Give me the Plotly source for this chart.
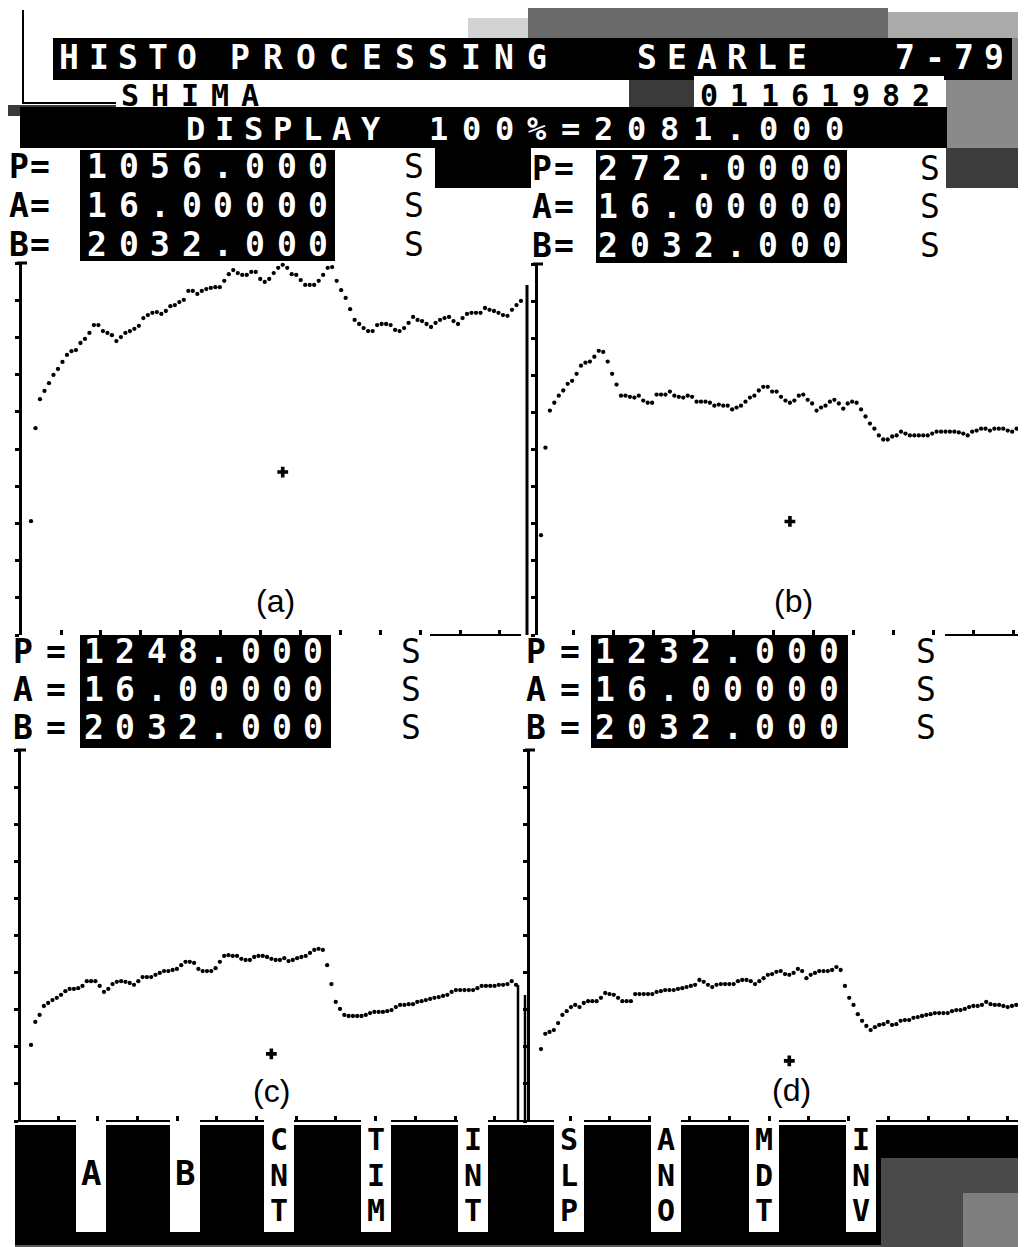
import plotly.graph_objects as go

W, H = 1026, 1247

# ---------------- data (percent of display full scale, one value per channel) ----------------
levels_a = [30.6, 55.6, 63.4, 65.6, 67.7, 69.9, 71.5, 73.4, 75.3, 76.3, 76.6, 78.5, 79.6, 81.2, 83.3,
            83.3, 81.7, 81.2, 80.6, 79.0, 80.1, 81.2, 81.7, 82.3, 83.1, 85.2, 86.0, 86.6, 86.8, 86.3,
            87.1, 88.4, 88.7, 89.5, 90.1, 92.5, 92.5, 91.7, 92.5, 93.0, 93.3, 93.5, 93.5, 95.2, 97.0,
            98.1, 97.3, 96.8, 96.8, 97.6, 97.6, 95.7, 94.9, 95.7, 97.3, 98.7, 99.5, 98.7, 97.0, 96.8,
            95.4, 94.1, 94.1, 94.1, 95.2, 96.8, 98.7, 98.9, 95.2, 92.7, 90.6, 87.6, 84.7, 83.6, 82.5,
            81.7, 81.7, 83.3, 83.6, 83.6, 83.3, 82.0, 81.7, 82.5, 83.9, 85.5, 84.7, 84.4, 83.6, 82.8,
            83.9, 84.7, 85.2, 85.5, 84.4, 83.6, 85.2, 86.3, 86.6, 86.6, 86.6, 87.9, 87.4, 87.1, 86.6,
            86.0, 85.8, 87.4, 88.7, 89.8]
levels_b = [26.9, 50.5, 60.5, 62.6, 64.5, 65.9, 67.7, 68.5, 70.4, 72.6, 73.4, 73.7, 75.0, 76.6, 76.3,
            73.7, 70.4, 67.5, 64.5, 64.5, 64.2, 64.0, 64.5, 63.2, 62.6, 62.6, 64.8, 64.8, 64.8, 65.6,
            64.5, 64.2, 64.0, 64.5, 64.2, 62.9, 62.9, 62.9, 62.6, 61.8, 62.1, 61.8, 61.8, 60.8, 61.3,
            61.8, 62.9, 64.0, 64.5, 65.9, 66.9, 66.9, 65.6, 65.6, 64.2, 63.2, 62.6, 63.2, 64.5, 64.8,
            63.4, 62.4, 60.5, 61.3, 61.8, 62.9, 63.4, 62.4, 61.0, 62.4, 62.9, 62.6, 60.8, 58.9, 57.0,
            55.6, 53.8, 52.7, 52.7, 53.5, 53.8, 54.8, 54.3, 53.8, 53.8, 53.8, 53.8, 53.8, 54.3, 54.8,
            54.8, 54.8, 54.8, 54.8, 54.6, 54.3, 53.8, 54.8, 55.1, 55.6, 55.6, 55.1, 55.6, 55.6, 55.6,
            55.1, 54.8, 55.6, 56.5, 57.0, 56.2]
levels_c = [20.5, 26.7, 28.6, 31.0, 31.8, 32.6, 33.2, 34.0, 35.0, 35.6, 35.6, 35.8, 36.4, 37.7, 37.7,
            37.7, 36.4, 34.8, 35.6, 36.9, 37.5, 37.7, 37.5, 37.2, 36.7, 37.7, 38.8, 38.8, 38.8, 39.4,
            39.9, 40.4, 40.4, 40.7, 41.0, 42.0, 42.9, 42.9, 42.6, 41.0, 40.4, 40.4, 40.4, 41.2, 42.9,
            44.5, 44.7, 44.5, 44.5, 43.7, 43.4, 43.4, 44.2, 44.5, 44.5, 44.2, 43.7, 43.4, 43.4, 43.9,
            43.1, 43.4, 43.9, 44.2, 44.5, 45.3, 46.1, 46.4, 46.1, 42.0, 36.9, 32.1, 30.2, 28.6, 28.3,
            28.3, 28.3, 28.3, 28.6, 29.1, 29.4, 29.4, 29.4, 29.6, 29.9, 30.7, 31.3, 31.3, 31.5, 31.5,
            32.1, 32.3, 32.6, 32.9, 33.2, 33.4, 33.7, 34.0, 34.8, 35.3, 35.3, 35.3, 35.3, 35.3, 35.8,
            36.4, 36.4, 36.4, 36.4, 36.7, 36.7, 36.9, 37.7, 36.7]
levels_d = [19.4, 23.5, 24.0, 24.5, 26.4, 28.6, 29.6, 30.7, 31.3, 30.7, 31.8, 32.3, 32.3, 32.3, 33.2,
            34.5, 34.2, 34.0, 33.2, 32.3, 32.3, 32.3, 34.2, 34.2, 34.2, 34.2, 34.2, 34.8, 35.0, 35.3,
            35.3, 35.3, 35.6, 35.8, 36.1, 36.4, 36.7, 38.0, 37.5, 36.7, 36.1, 36.7, 36.9, 36.9, 36.9,
            36.9, 37.7, 38.0, 38.0, 37.7, 36.9, 37.7, 38.5, 39.4, 39.6, 40.2, 40.4, 39.6, 39.4, 39.9,
            41.0, 40.4, 38.5, 39.4, 39.9, 40.4, 40.4, 40.4, 40.7, 41.5, 40.7, 36.4, 33.2, 31.3, 28.8,
            27.0, 25.6, 24.5, 25.3, 25.9, 26.1, 26.7, 25.9, 26.1, 27.0, 27.2, 27.2, 27.8, 28.0, 28.3,
            28.6, 28.8, 29.1, 29.1, 29.1, 29.1, 29.6, 29.9, 29.9, 30.2, 30.7, 31.0, 31.0, 31.3, 32.1,
            31.5, 31.3, 31.3, 31.0, 30.7, 31.0, 31.3, 31.5, 31.3, 31.8]
panel_levels = [levels_a, levels_b, levels_c, levels_d]
panel_labels = ["(a)", "(b)", "(c)", "(d)"]
cursor_channel = [56, 56, 56, 58]
cursor_level = [43.8, 30.6, 18.1, 16.2]

title_words = ["HISTO", "PROCESSING", "SEARLE", "7-79"]
operator = "SHIMA"
date_code = "01161982"
display_words = ["DISPLAY", "100%=2081.000"]
param_names = ["P", "A", "B"]
param_values = [["1056.000", "16.00000", "2032.000"],
                ["272.0000", "16.00000", "2032.000"],
                ["1248.000", "16.00000", "2032.000"],
                ["1232.000", "16.00000", "2032.000"]]
menu_keys = ["A", "B", "CNT", "TIM", "INT", "SLP", "ANO", "MDT", "INV"]

# ---------------- layout helpers ----------------
MONO = "DejaVu Sans Mono"
SANS = "Liberation Sans, Arial, sans-serif"
shapes, annotations = [], []


def px(x):
    return x / W


def py(y):
    return 1 - y / H


def rect(x0, y0, x1, y1, color, layer="below"):
    shapes.append(dict(type="rect", xref="paper", yref="paper", x0=px(x0), x1=px(x1),
                       y0=py(y1), y1=py(y0), fillcolor=color, line=dict(width=0), layer=layer))


def line(x0, y0, x1, y1, w=2, color="black", layer="below"):
    shapes.append(dict(type="line", xref="paper", yref="paper", x0=px(x0), x1=px(x1),
                       y0=py(y0), y1=py(y1), line=dict(color=color, width=w), layer=layer))


def chars(s, x_first, pitch, y, size, color, family=MONO, weight="bold"):
    for i, ch in enumerate(s):
        if ch == " ":
            continue
        annotations.append(dict(x=px(x_first + i * pitch), y=py(y), xref="paper", yref="paper",
                                text=ch, showarrow=False, xanchor="center", yanchor="middle",
                                font=dict(family=family, size=size, color=color, weight=weight)))


def column(col_chars, x, y_mid, row_pitch, size, color, weight="bold"):
    """Vertically stacked characters in one text element (rows row_pitch px apart)."""
    base = row_pitch / 1.3
    txt = "<br>".join('<span style="font-size:%dpx">%s</span>' % (size, c) for c in col_chars)
    annotations.append(dict(x=px(x), y=py(y_mid), xref="paper", yref="paper", text=txt,
                            showarrow=False, xanchor="center", yanchor="middle", align="center",
                            font=dict(family=MONO, size=base, color=color, weight=weight)))


# ---------------- screen background blocks ----------------
line(15, 2, 15, 96, 2)
line(15, 95, 108, 95, 2)
rect(520, 0, 880, 30, "#6a6a6a")
rect(460, 10, 520, 30, "#d2d2d2")
rect(880, 4, 1026, 30, "#ababab")
rect(45, 30, 1026, 72, "black")
rect(1004, 30, 1026, 72, "#8a8a8a")
rect(621, 72, 686, 100, "#3a3a3a")
rect(938, 72, 1026, 140, "#8a8a8a")
rect(938, 140, 1026, 180, "#3c3c3c")
rect(686, 68, 936, 100, "white")
rect(0, 97, 108, 108, "#3a3a3a")
rect(12, 99, 939, 140, "black")
rect(427, 138, 523, 180, "black")

# parameter boxes
box_geo = [(72, 327, 142, 253), (588, 839, 142, 255), (72, 323, 627, 740), (583, 840, 627, 740)]
for (x0, x1, y0, y1) in box_geo:
    rect(x0, y0, x1, y1, "black")

# menu band
rect(7, 1117, 1026, 1247, "black")
rect(873, 1150, 1026, 1247, "#4a4a4a")
rect(955, 1185, 1026, 1247, "#7e7e7e")
rect(7, 1237, 873, 1247, "#5a5a5a")

# axis line segments and dividers
line(422, 627, 513, 627, 2)
line(937, 627, 1023, 627, 2)
line(8, 1113, 1024, 1113, 2)
line(519, 277, 519, 627, 3)
line(510, 977, 510, 1113, 2.5)
line(517, 987, 517, 1113, 2.5)
line(1024, 985, 1024, 1113, 2.5)

# menu keys (white tabs)
key_x = [68, 162, 256, 353, 450, 546, 643, 741, 838]
for kx in key_x:
    rect(kx, 1111.5, kx + 30, 1224, "white")

# ---------------- panels ----------------
# (left, right, top, bottom, first point px, px per channel, first tick px, tick step px)
geo = [(14, 518, 255, 627, 23, 4.495, 53, 39.9),
       (530, 1024, 256, 627, 533, 4.445, 565, 40.0),
       (13, 512, 742, 1113, 23, 4.292, 50, 39.7),
       (522, 1024, 742, 1113, 533, 4.281, 562, 39.8)]
label_pos = [(267, 593), (785, 593), (263, 1083), (783, 1082)]

fig = go.Figure()
layout_axes = {}
for k, (L, R, T, B, p0, s, t0, ts) in enumerate(geo):
    n = "" if k == 0 else str(k + 1)
    vals = panel_levels[k]
    fig.add_trace(go.Scatter(x=list(range(len(vals))), y=vals, mode="markers",
                             marker=dict(color="black", size=4.3), cliponaxis=False,
                             xaxis="x" + n, yaxis="y" + n, hoverinfo="skip", showlegend=False))
    fig.add_trace(go.Scatter(x=[cursor_channel[k]], y=[cursor_level[k]], mode="markers",
                             marker=dict(color="black", size=9, symbol="cross"), cliponaxis=False,
                             xaxis="x" + n, yaxis="y" + n, hoverinfo="skip", showlegend=False))
    layout_axes["xaxis" + n] = dict(domain=[px(L), px(R)], range=[(L - p0) / s, (R - p0) / s],
                                    anchor="y" + n, showline=False, showgrid=False, zeroline=False,
                                    showticklabels=False, ticks="inside", ticklen=5, tickwidth=2.5,
                                    tickcolor="black", tickmode="linear", tick0=(t0 - p0) / s,
                                    dtick=ts / s, fixedrange=True)
    layout_axes["yaxis" + n] = dict(domain=[py(B), py(T)], range=[0, 100], anchor="x" + n,
                                    showline=True, linewidth=3, linecolor="black", showgrid=False,
                                    zeroline=False, showticklabels=False, ticks="outside", ticklen=4,
                                    tickwidth=2.5, tickcolor="black", tickmode="linear", tick0=0,
                                    dtick=10, fixedrange=True)
    line(L - 5, T, L + 5, T, 3)
    lx, ly = label_pos[k]
    annotations.append(dict(x=px(lx), y=py(ly), xref="paper", yref="paper", text=panel_labels[k],
                            showarrow=False, xanchor="center", yanchor="middle",
                            font=dict(family=SANS, size=32, color="black")))

# ---------------- texts ----------------
title_pos = [(61, 29.5), (232, 33.0), (639, 30.0), (897, 29.7)]
for wd, (x0, p) in zip(title_words, title_pos):
    chars(wd, x0, p, 50, 33, "white")
chars(operator, 122, 30, 87, 30, "black")
chars(date_code, 701, 30.3, 87, 30, "black")
chars(display_words[0], 187, 29.3, 121.5, 32, "white")
chars(display_words[1], 430, 33.0, 121.5, 32, "white")

# parameter blocks: (P x, = x, first digit x, digit pitch, S x, middle row y, row pitch)
param_geo = [(11, 32, 89, 31.6, 406, 197.5, 39.0),
             (534, 556, 600, 32.0, 922, 198.5, 38.3),
             (15, 48, 86, 31.3, 403, 681, 38.0),
             (528, 562, 597, 32.0, 918, 681, 38.0)]
for k, (xp, xe, xd, pd, xs, ym, rp) in enumerate(param_geo):
    column(param_names, xp, ym, rp, 33, "black")
    column(["=", "=", "="], xe, ym, rp, 33, "black")
    for j in range(8):
        column([v[j] for v in param_values[k]], xd + j * pd, ym, rp, 33, "white")
    column(["S", "S", "S"], xs, ym, rp, 33, "black", weight="normal")

# menu key letters (three stacked letters per multi-letter key)
for kx, name in zip(key_x, menu_keys):
    if len(name) == 1:
        chars(name, kx + 15, 0, 1165, 34, "black")
    else:
        column(list(name), kx + 15, 1167, 35.5, 30, "black")

fig.update_layout(width=W, height=H, margin=dict(l=0, r=0, t=0, b=0), autosize=False,
                  paper_bgcolor="white", plot_bgcolor="rgba(0,0,0,0)", showlegend=False,
                  shapes=shapes, annotations=annotations, **layout_axes)
fig.write_html("out.html")
